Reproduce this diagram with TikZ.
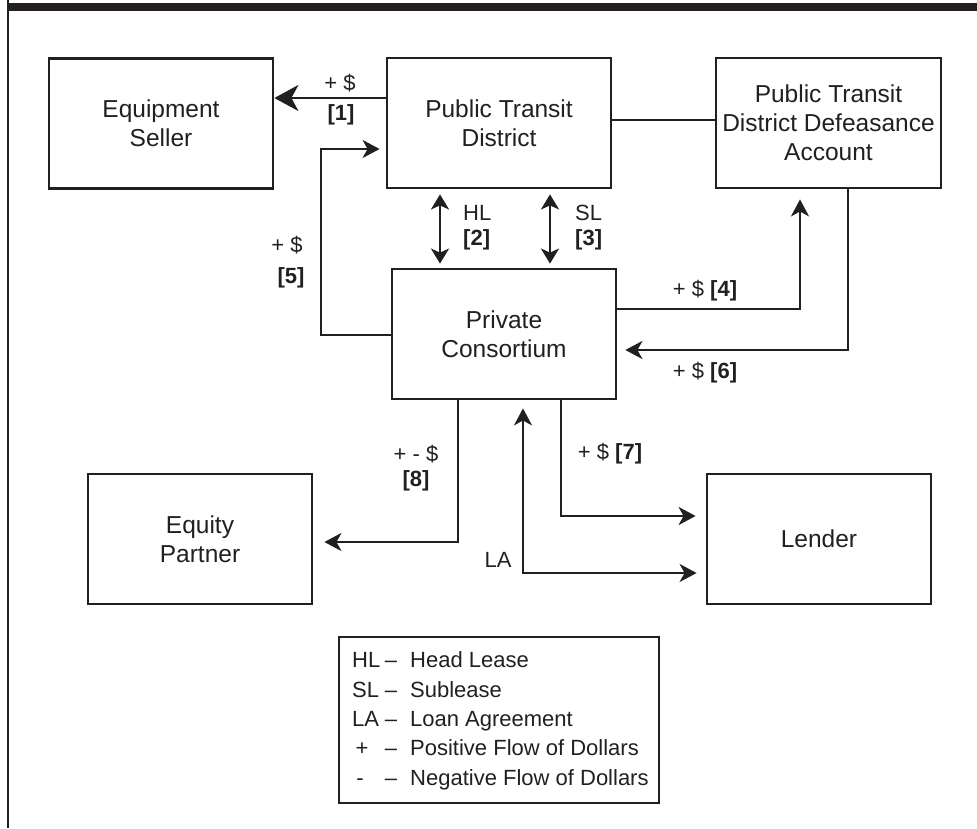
\documentclass[tikz,border=0pt]{standalone}
\usepackage{fontspec}
\setmainfont{Liberation Sans}
\usetikzlibrary{arrows.meta}
\definecolor{ink}{RGB}{35,31,32}
\begin{document}
\begin{tikzpicture}[x=1pt,y=-1pt,
  box/.style={draw=ink, line width=2.8pt, minimum width=224pt, minimum height=130pt, inner sep=0pt, align=center, font=\fontsize{24.5}{29}\selectfont, text=ink},
  conn/.style={draw=ink, line width=2.6pt},
  arr/.style={conn, -{Stealth[length=17pt,width=18pt,inset=5pt]}},
  bigarr/.style={conn, -{Stealth[length=24pt,width=26pt,inset=7pt]}},
  dbl/.style={conn, {Stealth[length=15pt,width=18pt,inset=4pt]}-{Stealth[length=15pt,width=18pt,inset=4pt]}},
  dblb/.style={conn, {Stealth[length=17pt,width=18pt,inset=5pt]}-{Stealth[length=17pt,width=18pt,inset=5pt]}},
  lbl/.style={font=\fontsize{22}{29}\selectfont, text=ink, inner sep=0pt},
]
\useasboundingbox (0,0) rectangle (977,828);
% frame
\fill[ink] (8,3) rectangle (977,11);
\draw[ink, line width=2.6pt] (8,0) -- (8,828);

% boxes
\node[box] (ES)  at (161,123.5) {Equipment\\Seller};
\node[box] (PTD) at (499,123)   {Public Transit\\District};
\node[box, minimum width=225pt] (ACC) at (828.5,123) {Public Transit\\District Defeasance\\Account};
\node[box] (PC)  at (504,334)   {Private\\Consortium};
\node[box] (EP)  at (200,539)   {Equity\\Partner};
\node[box] (LEN) at (819,539)   {Lender};

% connectors
\draw[bigarr] (PTD.west |- 0,98) -- (ES.east |- 0,98);
\draw[conn] (PTD.east |- 0,120) -- (ACC.west |- 0,120);
\draw[dbl, shorten <=5pt, shorten >=4pt] (PTD.south -| 440,0) -- (PC.north -| 440,0);
\draw[dbl, shorten <=5pt, shorten >=4pt] (PTD.south -| 550,0) -- (PC.north -| 550,0);
\draw[arr, shorten >=6pt] (PC.west |- 0,335) -| (321,149) -- (PTD.west |- 0,149);
\draw[arr, shorten >=10pt] (PC.east |- 0,309) -| (ACC.south -| 800,0);
\draw[arr, shorten >=8pt] (ACC.south -| 848,0) |- (PC.east |- 0,350);
\draw[arr, shorten >=11pt] (PC.south -| 458,0) |- (EP.east |- 0,542);
\draw[arr, shorten >=10pt] (PC.south -| 561,0) |- (LEN.west |- 0,516);
\draw[dblb, shorten <=8pt, shorten >=9pt] (PC.south -| 523,0) -- (523,573) -- (LEN.west |- 0,573);

% labels
\node[lbl] (l1a) at (340,83) {+ \$};
\node[lbl] (l1b) at (341,115) {\textbf{[1]}};
\node[lbl, anchor=west] (l2a) at (463,213) {HL};
\node[lbl, anchor=west] (l2b) at (463,240) {\textbf{[2]}};
\node[lbl, anchor=west] (l3a) at (575,213) {SL};
\node[lbl, anchor=west] (l3b) at (575,240) {\textbf{[3]}};
\node[lbl] (l5a) at (287,245) {+ \$};
\node[lbl] (l5b) at (291,278) {\textbf{[5]}};
\node[lbl] (l4) at (705,291) {+ \$ \textbf{[4]}};
\node[lbl] (l6) at (705,373) {+ \$ \textbf{[6]}};
\node[lbl] (l8a) at (416,454) {+ - \$};
\node[lbl] (l8b) at (416,481) {\textbf{[8]}};
\node[lbl] (l7) at (610,454) {+ \$ \textbf{[7]}};
\node[lbl] (lLA) at (498,560) {LA};

% legend
\node[draw=ink, line width=2.6pt, minimum width=320pt, minimum height=166pt, inner sep=0pt] (LEG) at (499,720) {};
\node[lbl, anchor=base west] (k1) at (352,667) {HL};
\node[lbl, anchor=base west] (k2) at (352,697) {SL};
\node[lbl, anchor=base west] (k3) at (352,726) {LA};
\node[lbl, anchor=base] (k4) at (362,755) {+};
\node[lbl, anchor=base] (k5) at (360,785) {-};
\foreach \yy/\nm in {667/d1,697/d2,726/d3,755/d4,785/d5}
  \node[lbl, anchor=base] (\nm) at (391,\yy) {--};
\node[lbl, anchor=base west] (t1) at (410,667) {Head Lease};
\node[lbl, anchor=base west] (t2) at (410,697) {Sublease};
\node[lbl, anchor=base west] (t3) at (410,726) {Loan Agreement};
\node[lbl, anchor=base west] (t4) at (410,755) {Positive Flow of Dollars};
\node[lbl, anchor=base west] (t5) at (410,785) {Negative Flow of Dollars};
\end{tikzpicture}
\end{document}
